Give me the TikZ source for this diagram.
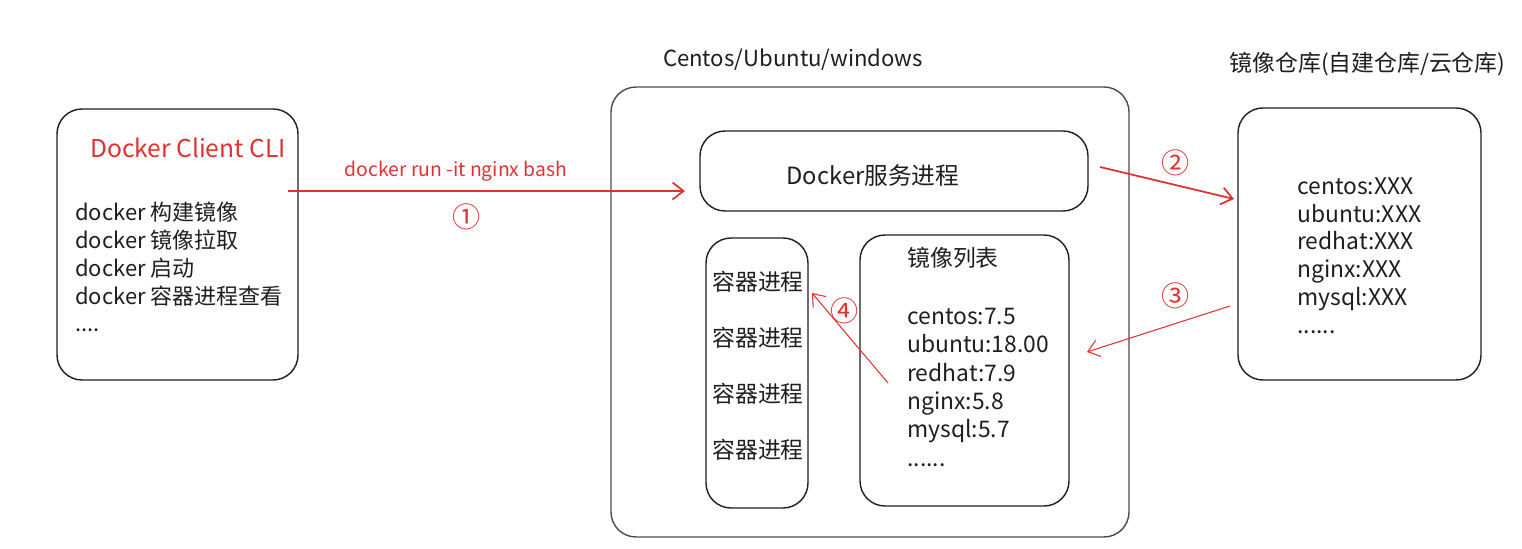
\documentclass[tikz,border=0pt]{standalone}
\usepackage{fontspec}
\setmainfont{Noto Sans CJK SC}
\usetikzlibrary{arrows.meta}
\definecolor{ink}{HTML}{1E1E1E}
\definecolor{exred}{HTML}{E03131}
\tikzset{
  box/.style={draw=ink, line width=0.8pt, rounded corners=0.5cm, inner sep=0pt},
  redarrow/.style={draw=exred, line width=1pt, -{Straight Barb[length=2.2mm,width=3.4mm]}},
  txt/.style={font=\fontsize{12.5}{15.8}\selectfont, text=ink, inner sep=0pt},
  rtxt/.style={text=exred, inner sep=0pt},
}
\begin{document}
\begin{tikzpicture}
    \useasboundingbox (0,0) rectangle (30.44,-10.98);
    % boxes
    \node[box, minimum width=4.82cm, minimum height=5.42cm] (client) at (3.55,-4.89) {};
    \node[box, draw=ink!80, minimum width=10.36cm, minimum height=9cm] (host) at (17.4,-6.24) {};
    \node[box, minimum width=7.76cm, minimum height=1.6cm] (dockerd) at (17.88,-3.42) {};
    \node[box, minimum width=2.04cm, minimum height=5.4cm] (procs) at (15.14,-7.46) {};
    \node[box, minimum width=4.18cm, minimum height=5.42cm] (images) at (19.29,-7.41) {};
    \node[box, minimum width=4.86cm, minimum height=5.44cm] (registry) at (27.19,-4.88) {};
    % titles
    \node[txt, font=\fontsize{12.6}{15}\selectfont] (hosttitle) at (15.86,-1.2) {Centos/Ubuntu/windows};
    \node[txt, font=\fontsize{13}{15}\selectfont] (regtitle) at (27.35,-1.28) {镜像仓库(自建仓库/云仓库)};
    % client
    \node[rtxt, font=\fontsize{14}{16}\selectfont, anchor=west] (clititle) at (1.8,-2.96) {Docker Client CLI};
    \node[txt, align=left, anchor=north west] (clilines) at (1.5,-4.04)
        {docker 构建镜像\\docker 镜像拉取\\docker 启动\\docker 容器进程查看\\....};
    % host
    \node[txt, font=\fontsize{13.5}{16}\selectfont] (dockerdtext) at (17.46,-3.5) {Docker服务进程};
    \node[txt, font=\fontsize{13}{15}\selectfont] (p1) at (15.16,-5.64) {容器进程};
    \node[txt, font=\fontsize{13}{15}\selectfont] (p2) at (15.16,-6.76) {容器进程};
    \node[txt, font=\fontsize{13}{15}\selectfont] (p3) at (15.16,-7.88) {容器进程};
    \node[txt, font=\fontsize{13}{15}\selectfont] (p4) at (15.16,-9.0) {容器进程};
    \node[txt, font=\fontsize{13}{15}\selectfont, anchor=west] (imgtitle) at (18.14,-5.16) {镜像列表};
    \node[txt, font=\fontsize{13}{16.1}\selectfont, align=left, anchor=north west] (imglines) at (18.14,-6.16)
        {centos:7.5\\ubuntu:18.00\\redhat:7.9\\nginx:5.8\\mysql:5.7\\......};
    % registry
    \node[txt, font=\fontsize{13}{15.9}\selectfont, align=left, anchor=north west] (reglines) at (25.94,-3.54)
        {centos:XXX\\ubuntu:XXX\\redhat:XXX\\nginx:XXX\\mysql:XXX\\......};
    % arrows
    \coordinate (a1s) at (5.76,-3.82);
    \coordinate (a1e) at (13.7,-3.82);
    \coordinate (a2s) at (22,-3.34);
    \coordinate (a2e) at (24.68,-3.98);
    \coordinate (a3s) at (24.6,-6.12);
    \coordinate (a3e) at (21.74,-7.04);
    \coordinate (a4s) at (17.76,-7.66);
    \coordinate (a4e) at (16.24,-5.86);
    \draw[redarrow] (a1s) -- (a1e);
    \draw[redarrow] (a2s) -- (a2e);
    \draw[redarrow, line width=0.6pt] (a3s) -- (a3e);
    \draw[redarrow, line width=0.6pt] (a4s) -- (a4e);
    \node[rtxt, font=\fontsize{11}{13}\selectfont] (cmd) at (9.12,-3.42) {docker run -it nginx bash};
    \node[rtxt, font=\fontsize{16}{18}\selectfont] (n1) at (9.34,-4.34) {①};
    \node[rtxt, font=\fontsize{16}{18}\selectfont] (n2) at (23.52,-3.26) {②};
    \node[rtxt, font=\fontsize{16}{18}\selectfont] (n3) at (23.52,-5.92) {③};
    \node[rtxt, font=\fontsize{16}{18}\selectfont] (n4) at (16.9,-6.22) {④};
\end{tikzpicture}
\end{document}
